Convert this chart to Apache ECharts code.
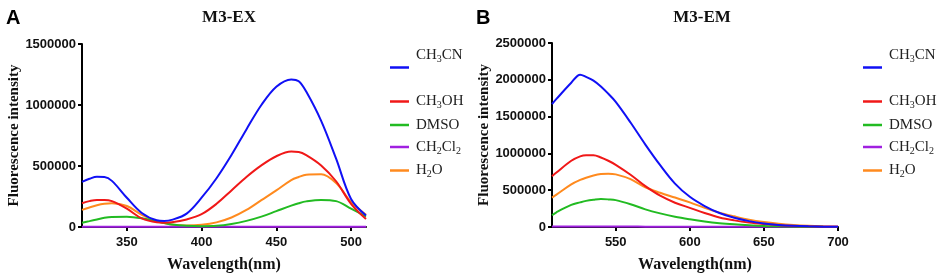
<!DOCTYPE html>
<html>
<head>
<meta charset="utf-8">
<script src="https://cdn.jsdelivr.net/npm/echarts@6/dist/echarts.min.js"></script>
<style>
  html, body { margin: 0; padding: 0; background: #fff; }
  #chart { width: 941px; height: 278px; }
</style>
</head>
<body>
<div id="chart"></div>
<script>
// solvent names (digits become subscripts in the legend)
const solvents = ['CH3CN', 'CH3OH', 'DMSO', 'CH2Cl2', 'H2O']
const colors = ['#1010f5', '#f01818', '#22bb22', '#a020e0', '#ff8a1e']

// panel A: excitation spectra
const wlA = [320, 325, 330, 335, 340, 350, 360, 370, 375, 380, 390, 400, 410, 420, 430, 440, 450, 460, 465, 470, 480, 490, 500, 510]
const ch3cnA = [370000, 395000, 412000, 410000, 378000, 240000, 115000, 55000, 50000, 58000, 110000, 240000, 400000, 590000, 800000, 1000000, 1150000, 1210000, 1195000, 1110000, 870000, 560000, 230000, 95000]
const ch3ohA = [195000, 212000, 222000, 222000, 212000, 150000, 70000, 38000, 35000, 38000, 62000, 105000, 190000, 300000, 410000, 505000, 580000, 618000, 615000, 590000, 505000, 375000, 190000, 65000]
const dmsoA = [35000, 48000, 62000, 75000, 82000, 85000, 72000, 45000, 32000, 20000, 10000, 7000, 10000, 25000, 50000, 85000, 130000, 175000, 195000, 210000, 222000, 212000, 150000, 85000]
const ch2cl2A = [3000, 3000, 3000, 3000, 3000, 3000, 3000, 3000, 3000, 3000, 3000, 3000, 3000, 3000, 3000, 3000, 3000, 3000, 3000, 3000, 3000, 3000, 3000, 3000]
const h2oA = [140000, 160000, 178000, 190000, 195000, 172000, 100000, 48000, 32000, 20000, 12000, 18000, 38000, 78000, 140000, 220000, 300000, 385000, 410000, 428000, 432000, 360000, 205000, 100000]

// panel B: emission spectra
const wlB = [507, 510, 520, 526, 530, 535, 540, 545, 550, 560, 570, 580, 590, 600, 610, 620, 630, 640, 650, 660, 670, 680, 690, 700]
const ch3cnB = [1670000, 1740000, 1960000, 2070000, 2040000, 1990000, 1910000, 1810000, 1700000, 1420000, 1120000, 840000, 590000, 410000, 285000, 190000, 125000, 80000, 48000, 28000, 16000, 9000, 5000, 3000]
const ch3ohB = [690000, 740000, 900000, 960000, 975000, 975000, 945000, 900000, 845000, 710000, 555000, 425000, 330000, 260000, 190000, 130000, 90000, 60000, 40000, 25000, 15000, 9000, 5000, 3000]
const dmsoB = [160000, 200000, 300000, 335000, 355000, 370000, 380000, 375000, 365000, 310000, 240000, 185000, 140000, 105000, 75000, 52000, 36000, 24000, 15000, 10000, 6000, 4000, 2000, 1000]
const ch2cl2B = [6000, 6000, 6000, 6000, 6000, 6000, 6000, 6000, 6000, 6000, 5000, 5000, 5000, 5000, 5000, 5000, 5000, 5000, 5000, 5000, 5000, 5000, 5000, 5000]
const h2oB = [400000, 440000, 580000, 640000, 670000, 700000, 720000, 725000, 715000, 650000, 540000, 465000, 400000, 335000, 260000, 195000, 145000, 100000, 68000, 45000, 28000, 16000, 9000, 5000]

const ticksA = [350, 400, 450, 500]
const ticksB = [550, 600, 650, 700]

const serif = 'Liberation Serif'
const sans = 'Liberation Sans'

function pairs (xs, ys) {
  return xs.map(function (x, i) { return [x, ys[i]] })
}

function legendText (name) {
  let s = '{n|' + name.replace(/(\d)/g, '}{s|$1}{n|') + '}'
  return s.replace('{n|}', '')
}

function makeSeries (idx, xs, list) {
  return list.map(function (ys, i) {
    return {
      name: solvents[i],
      type: 'line',
      xAxisIndex: idx,
      yAxisIndex: idx,
      data: pairs(xs, ys),
      smooth: 0.35,
      symbol: 'none',
      lineStyle: { width: 2, color: colors[i] },
      itemStyle: { color: colors[i] },
      z: 10 - i
    }
  })
}

function makeLegend (left, top, names, pad) {
  return {
    orient: 'vertical',
    left: left,
    top: top,
    itemWidth: 19,
    itemHeight: 2.5,
    itemGap: 7,
    icon: 'rect',
    selectedMode: false,
    data: names,
    formatter: legendText,
    textStyle: {
      padding: pad,
      rich: {
        n: { fontFamily: serif, fontSize: 15, lineHeight: 18, color: '#222' },
        s: { fontFamily: serif, fontSize: 10, lineHeight: 10, verticalAlign: 'bottom', color: '#222' }
      }
    }
  }
}

function xAxisOf (idx, min, max, ticks) {
  return {
    type: 'value',
    gridIndex: idx,
    min: min,
    max: max,
    name: 'Wavelength(nm)',
    nameLocation: 'middle',
    nameGap: 30,
    nameTextStyle: { fontFamily: serif, fontWeight: 'bold', fontSize: 16, color: '#111' },
    axisLine: { lineStyle: { color: '#000', width: 2 } },
    axisTick: { customValues: ticks, length: 4, lineStyle: { color: '#000', width: 2 } },
    axisLabel: { customValues: ticks, margin: 9, fontFamily: sans, fontWeight: 'bold', fontSize: 13, color: '#111' },
    splitLine: { show: false }
  }
}

function yAxisOf (idx, max) {
  return {
    type: 'value',
    gridIndex: idx,
    min: 0,
    max: max,
    interval: 500000,
    name: 'Fluorescence intensity',
    nameLocation: 'middle',
    nameGap: 59,
    nameTextStyle: { fontFamily: serif, fontWeight: 'bold', fontSize: 15, color: '#111' },
    axisLine: { show: true, lineStyle: { color: '#000', width: 2 } },
    axisTick: { show: true, length: 4, lineStyle: { color: '#000', width: 2 } },
    axisLabel: {
      margin: 6,
      fontFamily: sans,
      fontWeight: 'bold',
      fontSize: 13,
      color: '#111',
      formatter: function (val) { return String(val) }
    },
    splitLine: { show: false }
  }
}

const chart = echarts.init(document.getElementById('chart'))
chart.setOption({
  backgroundColor: '#fff',
  animation: false,
  title: [
    { text: 'A', left: 1, top: 3, textStyle: { fontFamily: sans, fontWeight: 'bold', fontSize: 20, color: '#000' } },
    { text: 'B', left: 471, top: 3, textStyle: { fontFamily: sans, fontWeight: 'bold', fontSize: 20, color: '#000' } },
    { text: 'M3-EX', left: 224, top: 4, textAlign: 'center', textStyle: { fontFamily: serif, fontWeight: 'bold', fontSize: 17, color: '#111' } },
    { text: 'M3-EM', left: 697, top: 4, textAlign: 'center', textStyle: { fontFamily: serif, fontWeight: 'bold', fontSize: 17, color: '#111' } }
  ],
  legend: [
    makeLegend(385, 43, ['CH3CN'], [0, 0, 24, 2]),
    makeLegend(385, 89, ['CH3OH', 'DMSO', 'CH2Cl2', 'H2O'], [0, 0, 0, 2]),
    makeLegend(858, 43, ['CH3CN'], [0, 0, 24, 2]),
    makeLegend(858, 89, ['CH3OH', 'DMSO', 'CH2Cl2', 'H2O'], [0, 0, 0, 2])
  ],
  grid: [
    { left: 82, top: 44, width: 284, height: 187 },
    { left: 552, top: 43, width: 286, height: 187 }
  ],
  xAxis: [xAxisOf(0, 320, 510, ticksA), xAxisOf(1, 507, 700, ticksB)],
  yAxis: [yAxisOf(0, 1500000), yAxisOf(1, 2500000)],
  series: makeSeries(0, wlA, [ch3cnA, ch3ohA, dmsoA, ch2cl2A, h2oA])
    .concat(makeSeries(1, wlB, [ch3cnB, ch3ohB, dmsoB, ch2cl2B, h2oB]))
})
</script>
</body>
</html>
